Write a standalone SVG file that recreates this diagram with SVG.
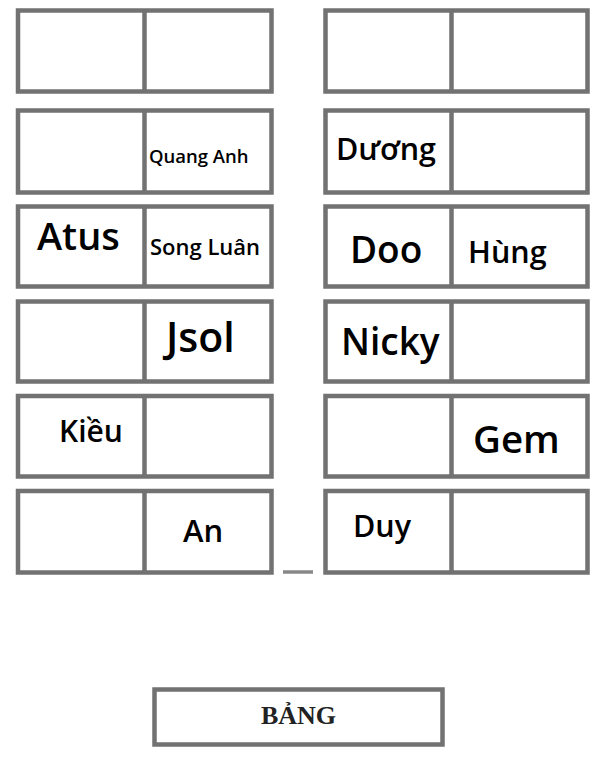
<svg xmlns="http://www.w3.org/2000/svg" width="600" height="772" viewBox="0 0 600 772">
<style>
.desk{fill:#fff;stroke:#727272;stroke-width:4.5}
.div{stroke:#727272;stroke-width:4.5}
.t{font-family:"Open Sans","Noto Sans","DejaVu Sans",sans-serif;font-weight:600;fill:#000}
.b{font-family:"Liberation Serif","Times New Roman",serif;font-weight:bold;fill:#222}
</style>
<rect width="600" height="772" fill="#fff"/>
<g id="desks-left">
<g id="L1"><rect class="desk" x="18" y="10.5" width="253.5" height="81"/><line class="div" x1="144.5" y1="10.5" x2="144.5" y2="91.5"/></g>
<g id="L2"><rect class="desk" x="18" y="110.5" width="253.5" height="82"/><line class="div" x1="144.5" y1="110.5" x2="144.5" y2="192.5"/><text class="t" x="149" y="163" font-size="18.5">Quang Anh</text></g>
<g id="L3"><rect class="desk" x="18" y="206.5" width="253.5" height="80"/><line class="div" x1="144.5" y1="206.5" x2="144.5" y2="286.5"/><text class="t" x="37" y="250" font-size="38">Atus</text><text class="t" x="150" y="255" font-size="22">Song Luân</text></g>
<g id="L4"><rect class="desk" x="18" y="301.5" width="253.5" height="80"/><line class="div" x1="144.5" y1="301.5" x2="144.5" y2="381.5"/><text class="t" x="166" y="352" font-size="41">Jsol</text></g>
<g id="L5"><rect class="desk" x="18" y="396" width="253.5" height="80.5"/><line class="div" x1="144.5" y1="396" x2="144.5" y2="476.5"/><text class="t" x="59" y="442" font-size="30">Kiều</text></g>
<g id="L6"><rect class="desk" x="18" y="491" width="253.5" height="81.5"/><line class="div" x1="144.5" y1="491" x2="144.5" y2="572.5"/><text class="t" x="183" y="542" font-size="31">An</text></g>
</g>
<g id="desks-right">
<g id="R1"><rect class="desk" x="325.5" y="10.5" width="262" height="81"/><line class="div" x1="451.5" y1="10.5" x2="451.5" y2="91.5"/></g>
<g id="R2"><rect class="desk" x="325.5" y="110.5" width="262" height="82"/><line class="div" x1="451.5" y1="110.5" x2="451.5" y2="192.5"/><text class="t" x="336" y="160" font-size="30.5">Dương</text></g>
<g id="R3"><rect class="desk" x="325.5" y="206.5" width="262" height="80"/><line class="div" x1="451.5" y1="206.5" x2="451.5" y2="286.5"/><text class="t" x="350" y="263" font-size="37">Doo</text><text class="t" x="468" y="263" font-size="30.5">Hùng</text></g>
<g id="R4"><rect class="desk" x="325.5" y="301.5" width="262" height="80"/><line class="div" x1="451.5" y1="301.5" x2="451.5" y2="381.5"/><text class="t" x="341" y="355" font-size="37">Nicky</text></g>
<g id="R5"><rect class="desk" x="325.5" y="396" width="262" height="80.5"/><line class="div" x1="451.5" y1="396" x2="451.5" y2="476.5"/><text class="t" x="473" y="453" font-size="38.5">Gem</text></g>
<g id="R6"><rect class="desk" x="325.5" y="491" width="262" height="81.5"/><line class="div" x1="451.5" y1="491" x2="451.5" y2="572.5"/><text class="t" x="353" y="537" font-size="30.5">Duy</text></g>
</g>
<g id="mark"><line x1="283" y1="572" x2="313" y2="572" stroke="#888" stroke-width="3.5"/></g>
<g id="board"><rect class="desk" x="154.5" y="689.5" width="288" height="55"/><text class="b" x="298.5" y="723.5" font-size="26" text-anchor="middle">BẢNG</text></g>
<g id="connectors"></g>
</svg>
